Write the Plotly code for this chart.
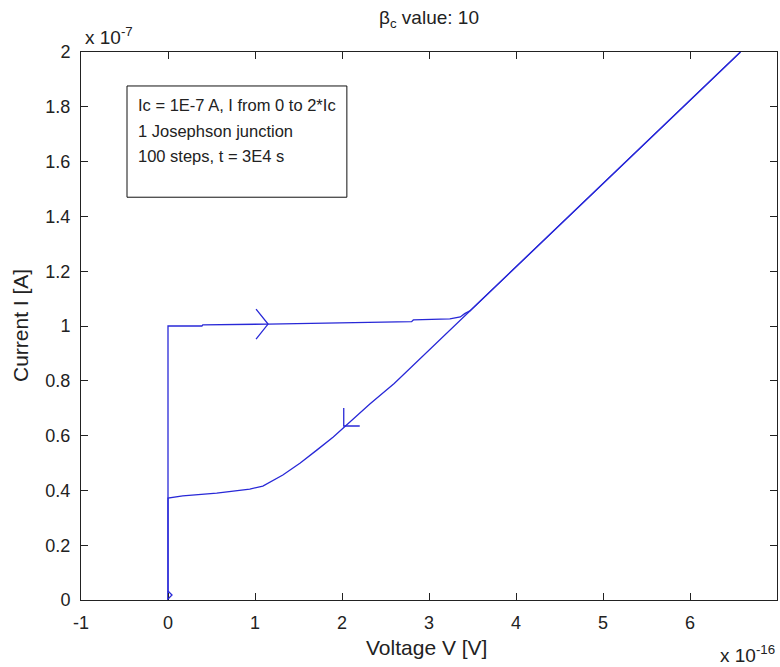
import plotly.graph_objects as go

# ---- data (V in units of 1e-16 V, I in units of 1e-7 A) ----
V_up = [0, 0, 0.39, 0.40, 1.15, 1.98, 2.44, 2.80, 2.82, 3.24, 3.36, 3.41, 3.47, 4.5, 5.5, 6.58]
I_up = [0, 1.0, 1.0, 1.004, 1.007, 1.011, 1.015, 1.016, 1.022, 1.026, 1.033, 1.045, 1.055, 1.368, 1.672, 2.0]

V_down = [6.58, 5.0, 4.0, 3.0, 2.6, 2.32, 2.17, 2.06, 1.90, 1.71, 1.52, 1.32, 1.09, 0.94, 0.56, 0.17, 0.0, 0.0]
I_down = [2.0, 1.52, 1.216, 0.912, 0.79, 0.715, 0.672, 0.64, 0.595, 0.547, 0.50, 0.456, 0.416, 0.405, 0.39, 0.38, 0.372, 0.0]

# direction-arrow positions on the curve
arrow_V = [1.15, 2.02, 0.046]
arrow_I = [1.007, 0.635, 0.018]
arrow_paths = ["M-12,15 L0,0 L-12,-15", "M0,18 L0,0 L16,0", "M-4,4 L0,0 L-4,-4"]

x_ticks = [-1, 0, 1, 2, 3, 4, 5, 6, 7]
x_ticktext = ["-1", "0", "1", "2", "3", "4", "5", "6", "7"]
y_ticks = [0, 0.2, 0.4, 0.6, 0.8, 1.0, 1.2, 1.4, 1.6, 1.8, 2.0]
y_ticktext = ["0", "0.2", "0.4", "0.6", "0.8", "1", "1.2", "1.4", "1.6", "1.8", "2"]

info_lines = ["Ic = 1E-7 A, I from 0 to 2*Ic", "1 Josephson junction", "100 steps, t = 3E4 s"]

LINE = "rgb(40,40,215)"
FONT = "Liberation Sans, Arial, sans-serif"
TXT = "#222222"

fig = go.Figure()
fig.add_trace(go.Scatter(x=V_up, y=I_up, mode="lines",
                         line=dict(color=LINE, width=1.3), hoverinfo="skip"))
fig.add_trace(go.Scatter(x=V_down, y=I_down, mode="lines",
                         line=dict(color=LINE, width=1.3), hoverinfo="skip"))

shapes = []
for vx, iy, p in zip(arrow_V, arrow_I, arrow_paths):
    shapes.append(dict(type="path", xref="x", yref="y", xsizemode="pixel", ysizemode="pixel",
                       xanchor=vx, yanchor=iy, path=p,
                       line=dict(color=LINE, width=1.3)))
# info box
shapes.append(dict(type="rect", xref="paper", yref="paper",
                   x0=0.0661, x1=0.382, y0=0.735, y1=0.938,
                   line=dict(color="#111111", width=1), fillcolor="white", layer="below"))

annotations = []
for txt, yp in zip(info_lines, [0.903, 0.856, 0.810]):
    annotations.append(dict(text=txt, xref="paper", yref="paper", x=0.079, y=yp,
                            xanchor="left", yanchor="middle", showarrow=False,
                            font=dict(family=FONT, size=16.5, color=TXT)))
annotations += [
    dict(text="β<sub>c</sub> value: 10", xref="paper", yref="paper", x=0.5, y=1.06,
         xanchor="center", yanchor="middle", showarrow=False,
         font=dict(family=FONT, size=19, color=TXT)),
    dict(text="x 10<sup>-7</sup>", xref="paper", yref="paper", x=0.003, y=1.03,
         xanchor="left", yanchor="middle", showarrow=False,
         font=dict(family=FONT, size=19, color=TXT)),
    dict(text="x 10<sup>-16</sup>", xref="paper", yref="paper", x=1.0, y=-0.098,
         xanchor="right", yanchor="middle", showarrow=False,
         font=dict(family=FONT, size=19, color=TXT)),
    dict(text="Voltage V [V]", xref="paper", yref="paper", x=0.4957, y=-0.0858,
         xanchor="center", yanchor="middle", showarrow=False,
         font=dict(family=FONT, size=21, color=TXT)),
    dict(text="Current I [A]", xref="paper", yref="paper", x=-0.0876, y=0.5,
         xanchor="center", yanchor="middle", showarrow=False, textangle=-90,
         font=dict(family=FONT, size=21, color=TXT)),
]

axis_common = dict(showline=True, linecolor="#222222", linewidth=1, mirror="ticks",
                   ticks="inside", ticklen=7, tickcolor="#222222", showgrid=False,
                   zeroline=False, tickfont=dict(family=FONT, size=18, color=TXT))

fig.update_layout(
    width=780, height=667, margin=dict(l=81, r=3, t=52, b=67),
    paper_bgcolor="white", plot_bgcolor="white", showlegend=False,
    xaxis=dict(range=[-1, 7], tickvals=x_ticks, ticktext=x_ticktext,
               ticklabelstandoff=6, **axis_common),
    yaxis=dict(range=[0, 2], tickvals=y_ticks, ticktext=y_ticktext,
               ticklabelstandoff=6, **axis_common),
    shapes=shapes, annotations=annotations,
)

fig.write_html("out.html")
